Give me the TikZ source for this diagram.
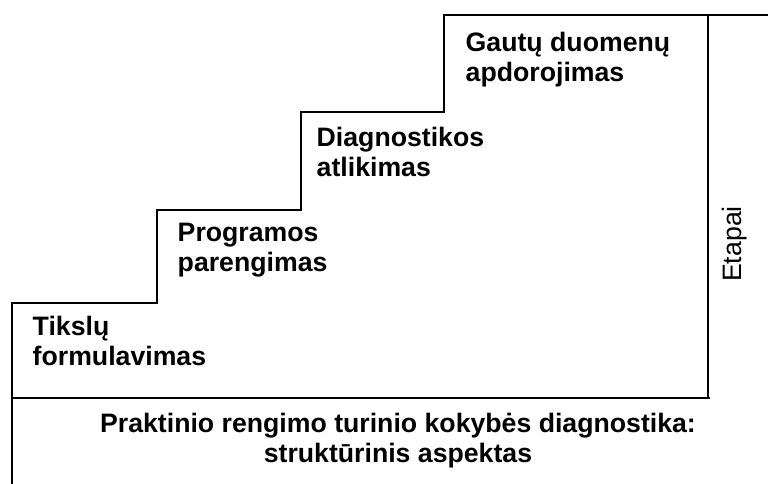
\documentclass[tikz,border=0pt]{standalone}
\usepackage{fontspec}
\setmainfont{Liberation Sans}
\usetikzlibrary{positioning}
\def\laiptai{(12,484) -- (12,303) -- (157,303) -- (157,210) -- (301,210) -- (301,112) -- (444,112) -- (444,15) -- (768,15)}
\def\etapulinija{(708,15) -- (708,398)}
\def\pagrindas{(12,398) -- (710,398)}
\begin{document}
\begin{tikzpicture}[x=0.75pt,y=-0.75pt,line width=1.1pt,
  every node/.style={inner sep=0pt,align=left,font=\bfseries\fontsize{20}{22.5}\selectfont}]
  \useasboundingbox (0,0) rectangle (768,484);
  \draw \laiptai;
  \draw \etapulinija;
  \draw \pagrindas;
  \node[anchor=base west] (t1) at (32,366) {Tikslų\\formulavimas};
  \node[anchor=base west] (t2) at (177,272) {Programos\\parengimas};
  \node[anchor=base west] (t3) at (316,177) {Diagnostikos\\atlikimas};
  \node[anchor=base west] (t4) at (465,82) {Gautų duomenų\\apdorojimas};
  \node[rotate=90,font=\fontsize{20}{22.5}\selectfont] (etapai) at (735,244) {Etapai};
  \node[align=center,anchor=base] (tema) at (398,463) {Praktinio rengimo turinio kokybės diagnostika:\\struktūrinis aspektas};
\end{tikzpicture}
\end{document}
